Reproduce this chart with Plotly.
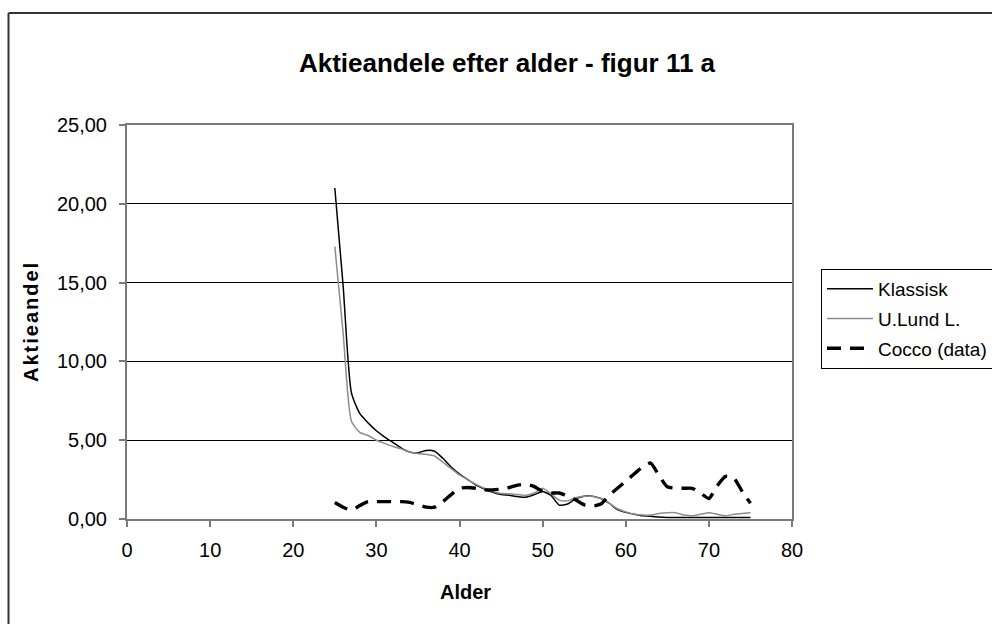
import plotly.graph_objects as go

# Age axis and the three series of equity shares
ages = list(range(25, 76))

klassisk = [21.0, 14.8, 8.0, 6.7, 6.1, 5.6, 5.2, 4.85, 4.5, 4.25,
            4.2, 4.35, 4.3, 3.85, 3.3, 2.85, 2.5, 2.15, 1.9, 1.7,
            1.55, 1.5, 1.42, 1.38, 1.55, 1.75, 1.5, 0.88, 0.95, 1.3,
            1.45, 1.45, 1.3, 1.0, 0.6, 0.42, 0.3, 0.2, 0.18, 0.12,
            0.1, 0.1, 0.1, 0.1, 0.1, 0.1, 0.1, 0.1, 0.1, 0.1, 0.1]

ulund = [17.3, 11.8, 6.2, 5.5, 5.3, 5.0, 4.8, 4.6, 4.45, 4.25,
         4.15, 4.1, 4.0, 3.6, 3.2, 2.8, 2.5, 2.2, 1.95, 1.75,
         1.62, 1.6, 1.55, 1.5, 1.65, 1.95, 1.6, 1.2, 1.15, 1.35,
         1.45, 1.45, 1.3, 1.0, 0.65, 0.45, 0.3, 0.25, 0.25, 0.35,
         0.4, 0.4, 0.25, 0.2, 0.3, 0.4, 0.3, 0.2, 0.3, 0.35, 0.4]

cocco = [1.05, 0.75, 0.57, 0.85, 1.1, 1.1, 1.1, 1.1, 1.1, 1.05,
         0.9, 0.75, 0.75, 1.1, 1.55, 1.95, 2.0, 1.95, 1.85, 1.85,
         1.9, 2.0, 2.15, 2.2, 2.05, 1.75, 1.65, 1.65, 1.45, 1.2,
         0.9, 0.82, 0.95, 1.5, 1.95, 2.4, 2.85, 3.3, 3.55, 2.75,
         2.05, 1.95, 1.95, 1.95, 1.65, 1.3, 2.1, 2.7, 2.6, 1.75, 1.0]

x_ticks = [0, 10, 20, 30, 40, 50, 60, 70, 80]
y_ticks = [0, 5, 10, 15, 20, 25]

FONT = "Liberation Sans, Arial, sans-serif"

# plot-area geometry in pixels (used to place paper-referenced items)
W, H = 992, 624
L, R, T, B = 127, 792, 125, 519
PW, PH = R - L, B - T


def px_x(px):
    return (px - L) / PW


def px_y(py):
    return (B - py) / PH


fig = go.Figure()
fig.add_trace(go.Scatter(
    x=ages, y=klassisk, name="Klassisk", mode="lines", legendgroup="a",
    line=dict(color="#000000", width=1.5, shape="spline", smoothing=0.6)))
fig.add_trace(go.Scatter(
    x=ages, y=ulund, name="U.Lund L.", mode="lines", legendgroup="b",
    line=dict(color="#8c8c8c", width=1.5, shape="spline", smoothing=0.6)))
fig.add_trace(go.Scatter(
    x=ages, y=cocco, name="Cocco (data)", mode="lines", legendgroup="c",
    line=dict(color="#000000", width=3.4, dash="14px,9px",
              shape="spline", smoothing=0.6)))

axis_common = dict(
    showline=True, linecolor="#7a7a7a", linewidth=2, mirror=True,
    ticks="outside", ticklen=6, tickwidth=1.5, tickcolor="#7a7a7a",
    zeroline=False,
    tickfont=dict(family=FONT, size=20, color="#000000"),
)

fig.update_xaxes(range=[0, 80], tickvals=x_ticks, showgrid=False,
                 ticklabelstandoff=6, **axis_common)
fig.update_yaxes(range=[0, 25], tickvals=y_ticks, tickformat=".2f",
                 showgrid=True, gridcolor="#000000", gridwidth=1,
                 ticklabelstandoff=8, **axis_common)

fig.update_layout(
    width=W, height=H,
    margin=dict(l=L, r=W - R, t=T, b=H - B, autoexpand=False),
    paper_bgcolor="#ffffff", plot_bgcolor="#ffffff",
    separators=",.",
    font=dict(family=FONT, color="#000000"),
    title=dict(text="<b>Aktieandele efter alder - figur 11 a</b>",
               font=dict(family=FONT, size=26, color="#000000"),
               xref="container", x=507 / W, xanchor="center",
               yref="container", y=1 - 63 / H, yanchor="middle"),
    showlegend=True,
    legend=dict(x=px_x(821), y=px_y(269), xanchor="left", yanchor="top",
                bordercolor="#000000", borderwidth=1, bgcolor="#ffffff",
                font=dict(family=FONT, size=19, color="#000000"),
                tracegroupgap=2, itemwidth=46),
    annotations=[
        dict(text="<b>Alder</b>", xref="paper", yref="paper",
             x=px_x(465), y=px_y(592), xanchor="center", yanchor="middle",
             showarrow=False, font=dict(family=FONT, size=20)),
        dict(text="<b><span style='letter-spacing:2px'>Aktieandel</span></b>",
             xref="paper", yref="paper", textangle=-90,
             x=px_x(31), y=px_y(322), xanchor="center", yanchor="middle",
             showarrow=False, font=dict(family=FONT, size=20)),
    ],
    shapes=[
        # outer chart frame (top and left edges visible on the page)
        dict(type="line", xref="paper", yref="paper",
             x0=px_x(8.5), x1=px_x(1100), y0=px_y(13), y1=px_y(13),
             line=dict(color="#333333", width=2)),
        dict(type="line", xref="paper", yref="paper",
             x0=px_x(8.5), x1=px_x(8.5), y0=px_y(13), y1=px_y(700),
             line=dict(color="#333333", width=2)),
    ],
)

fig.write_html("out.html")
